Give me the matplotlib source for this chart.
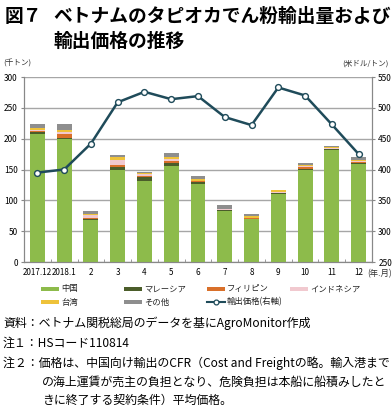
import numpy as np
import matplotlib
matplotlib.use("Agg")
import matplotlib.pyplot as plt
from matplotlib.lines import Line2D
from matplotlib.patches import Rectangle

plt.rcParams['font.family'] = ['Noto Sans CJK JP', 'DejaVu Sans']

# Data
months = ["2017.12", "2018.1", "2", "3", "4", "5", "6", "7", "8", "9", "10", "11", "12"]
china = [207, 199, 68, 150, 131, 156, 127, 82, 69, 111, 149, 182, 159]
malaysia = [4, 2, 2, 4, 7, 5, 2, 2, 1, 0.5, 2, 0.5, 2]
philippines = [1, 6, 2, 4, 2, 3, 2, 0, 1, 0.5, 3, 1, 1]
indonesia = [2, 4, 5, 7, 2, 3, 1, 1.5, 1, 1, 1, 1, 1]
taiwan = [3, 3, 1, 5, 2, 4, 2, 0.5, 2, 3, 2, 2, 3]
other = [7, 9, 4, 3, 2, 6, 5, 7, 4, 1, 4, 1.5, 4]
price = [395, 400, 442, 509, 526, 514, 519, 485, 472, 533, 520, 473, 425]

series = [
    ("中国", china, "#8dbb4b"),
    ("マレーシア", malaysia, "#4b5d2a"),
    ("フィリピン", philippines, "#d9702a"),
    ("インドネシア", indonesia, "#f1c9cf"),
    ("台湾", taiwan, "#eec23a"),
    ("その他", other, "#8e8e8e"),
]
line_color = "#1f4b5a"
W, H = 392, 405

fig = plt.figure(figsize=(3.92, 4.05), dpi=100)
ax = fig.add_axes([24 / W, 1 - 262 / H, 348 / W, 185 / H])
ax2 = ax.twinx()

x = np.arange(len(months))
bottom = np.zeros(len(months))
for name, vals, col in series:
    ax.bar(x, vals, bottom=bottom, width=0.56, color=col, zorder=3, linewidth=0)
    bottom += np.array(vals)

ax2.plot(x, price, color=line_color, lw=1.8, marker="o", ms=4.2,
         mfc="white", mec=line_color, mew=1.0, zorder=5)

ax.set_xlim(-0.5, len(months) - 0.5)
ax.set_ylim(0, 300)
ax.set_yticks(range(0, 301, 50))
ax2.set_ylim(250, 550)
ax2.set_yticks(range(250, 551, 50))
ax.yaxis.grid(True, color="#a6a6a6", lw=1.0, zorder=0)
ax.set_axisbelow(True)

ax.set_xticks(x)
ax.set_xticklabels(months)
ax.set_xticks(np.arange(-0.5, len(months), 1), minor=True)
ax.tick_params(axis="x", which="major", length=0, labelsize=5.8, pad=4)
ax.tick_params(axis="x", which="minor", length=2.5, color="#888888", direction="in")
ax.tick_params(axis="y", labelsize=6, length=2.5, color="#888888", pad=2)
ax2.tick_params(axis="y", labelsize=6, length=2.5, color="#888888", pad=2)

for a in (ax, ax2):
    a.spines["top"].set_visible(False)
    for s in ("left", "right", "bottom"):
        a.spines[s].set_color("#888888")
        a.spines[s].set_linewidth(0.8)

# Titles and units
fig.text(5 / W, 1 - 16 / H, "図７", fontsize=13.5, fontweight="bold", va="center")
fig.text(53 / W, 1 - 16 / H, "ベトナムのタピオカでん粉輸出量および",
         fontsize=13.5, fontweight="bold", va="center")
fig.text(53 / W, 1 - 41 / H, "輸出価格の推移", fontsize=13.5, fontweight="bold", va="center")
fig.text(3 / W, 1 - 64 / H, "(千トン)", fontsize=5.5, va="center", color="#333333")
fig.text(389 / W, 1 - 64 / H, "(米ドル/トン)", fontsize=5.5, va="center", ha="right",
         color="#333333")
fig.text(392 / W, 1 - 274 / H, "(年.月)", fontsize=6, va="center", ha="right",
         color="#333333")

# Legend drawn by hand at fixed column positions
col_x = [41, 124, 207, 290]
row_y = [289, 302]
items = [(n, c) for n, _, c in series] + [("輸出価格(右軸)", None)]
for i, (name, col) in enumerate(items):
    px = col_x[i % 4]
    py = row_y[i // 4]
    if col is not None:
        fig.add_artist(Rectangle((px / W, 1 - (py + 2) / H), 18 / W, 4 / H,
                                 transform=fig.transFigure, color=col, lw=0))
    else:
        fig.add_artist(Line2D([px / W, (px + 18) / W], [1 - py / H, 1 - py / H],
                              transform=fig.transFigure, color=line_color, lw=1.5))
        fig.add_artist(Line2D([(px + 9) / W], [1 - py / H], transform=fig.transFigure,
                              marker="o", ms=3.5, mfc="white", mec=line_color, mew=0.9))
    fig.text((px + 20) / W, 1 - py / H, name, fontsize=6, va="center", color="#222222")

# Notes
note_fs = 8.6
fig.text(3 / W, 1 - 323 / H, "資料：ベトナム関税総局のデータを基にAgroMonitor作成",
         fontsize=note_fs, va="center")
fig.text(3 / W, 1 - 343 / H, "注１：HSコード110814", fontsize=note_fs, va="center")
fig.text(3 / W, 1 - 363 / H,
         "注２：価格は、中国向け輸出のCFR（Cost and Freightの略。輸入港まで",
         fontsize=note_fs, va="center")
fig.text(42 / W, 1 - 382 / H,
         "の海上運賃が売主の負担となり、危険負担は本船に船積みしたと",
         fontsize=note_fs, va="center")
fig.text(42 / W, 1 - 400 / H, "きに終了する契約条件）平均価格。",
         fontsize=note_fs, va="center")

fig.savefig("out.png", dpi=100)
